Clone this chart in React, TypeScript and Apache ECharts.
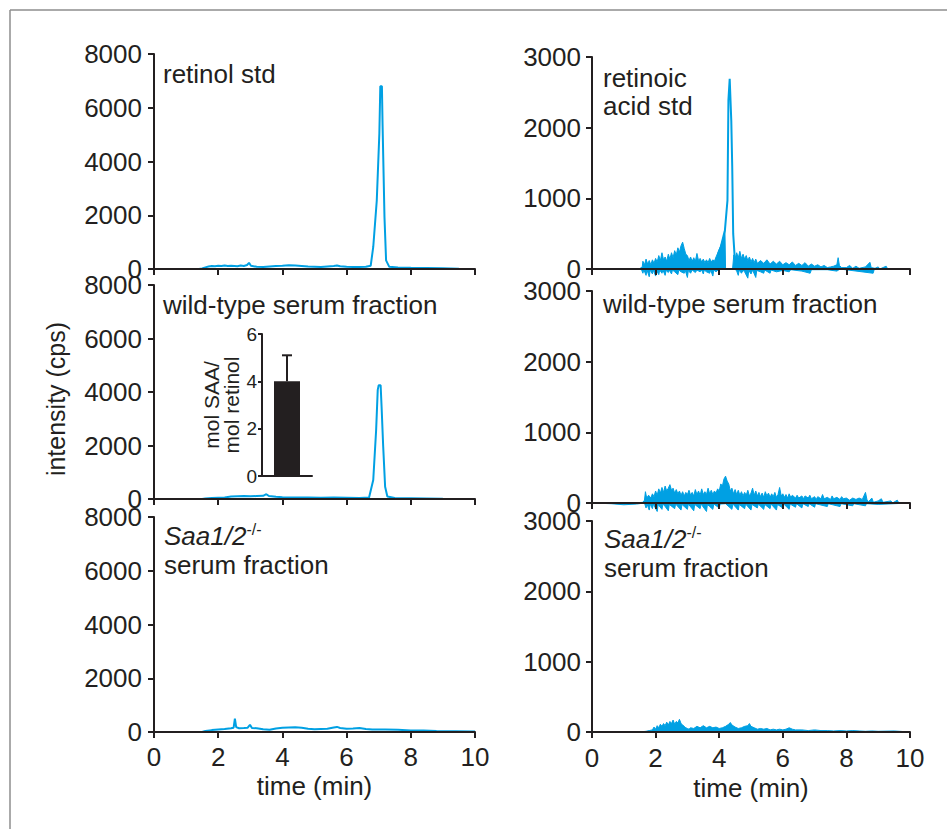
import React, { useEffect, useRef } from 'react';
import * as echarts from 'echarts';

// ---------- data ----------
// retinol traces (left column), [time (min), intensity (cps)]
const retinolStd: number[][] = [
  [0, 0], [1.4, 0], [1.5, 20], [1.6, 60], [1.7, 90], [1.8, 110], [1.9, 100], [2.0, 120], [2.1, 110],
  [2.2, 130], [2.3, 110], [2.4, 120], [2.5, 110], [2.6, 100], [2.7, 130], [2.8, 110], [2.9, 150],
  [2.96, 230], [3.02, 120], [3.2, 80], [3.4, 70], [3.6, 90], [3.8, 110], [4.0, 120], [4.2, 140],
  [4.4, 130], [4.6, 110], [4.8, 90], [5.0, 80], [5.2, 70], [5.4, 90], [5.6, 110], [5.7, 130],
  [5.8, 100], [6.0, 80], [6.2, 70], [6.4, 70], [6.6, 80], [6.75, 120], [6.83, 820], [6.94, 2550],
  [7.02, 5030], [7.05, 6800], [7.1, 6800], [7.12, 5400], [7.18, 1930], [7.23, 320], [7.33, 80],
  [7.6, 60], [8.0, 50], [8.5, 40], [9.0, 25], [9.5, 10], [10, 0],
];
const retinolWT: number[][] = [
  [0, 0], [1.5, 0], [1.6, 20], [1.8, 40], [2.0, 50], [2.2, 60], [2.4, 90], [2.6, 100], [2.8, 110],
  [3.0, 100], [3.2, 110], [3.4, 120], [3.5, 180], [3.58, 110], [3.8, 80], [4.0, 70], [4.4, 60],
  [4.8, 60], [5.2, 50], [5.6, 60], [6.0, 50], [6.4, 40], [6.7, 60], [6.83, 710], [6.92, 2580],
  [6.97, 4080], [7.0, 4250], [7.06, 4250], [7.09, 3450], [7.14, 1960], [7.2, 460], [7.27, 90],
  [7.5, 40], [8.0, 30], [8.5, 20], [9.0, 10], [10, 0],
];
const retinolKO: number[][] = [
  [0, 0], [1.5, 0], [1.6, 40], [1.8, 70], [2.0, 90], [2.2, 110], [2.4, 140], [2.48, 160], [2.52, 495],
  [2.56, 180], [2.65, 140], [2.8, 150], [2.92, 160], [2.99, 270], [3.05, 150], [3.2, 140], [3.4, 100],
  [3.6, 80], [3.8, 130], [4.0, 160], [4.2, 170], [4.4, 180], [4.6, 160], [4.8, 120], [5.0, 100],
  [5.2, 110], [5.4, 120], [5.6, 170], [5.7, 190], [5.8, 150], [6.0, 120], [6.2, 130], [6.4, 150],
  [6.6, 110], [6.8, 90], [7.2, 90], [7.6, 80], [8.0, 60], [8.4, 60], [8.8, 40], [9.4, 30], [10, 20],
];

// retinoic acid traces (right column): noisy band given by upper / lower envelopes
const raStdPeak: number[][] = [
  [3.95, 200], [4.05, 310], [4.18, 550], [4.26, 970], [4.29, 2390], [4.33, 2690], [4.35, 2690],
  [4.38, 2100], [4.41, 1440], [4.44, 500], [4.5, 75], [4.55, 120],
];
const raStdUpper: number[][] = [
  [0, 0], [1.5, 5], [1.58, 30], [1.6, 110], [1.65, 60], [1.7, 140], [1.75, 70], [1.8, 120], [1.85, 60],
  [1.9, 130], [1.95, 80], [2.0, 150], [2.05, 100], [2.1, 190], [2.15, 120], [2.2, 230], [2.25, 130],
  [2.3, 170], [2.35, 110], [2.4, 210], [2.45, 140], [2.5, 230], [2.55, 160], [2.6, 260], [2.65, 200],
  [2.7, 300], [2.75, 240], [2.8, 330], [2.85, 380], [2.9, 290], [2.95, 210], [3.0, 190], [3.05, 120],
  [3.1, 170], [3.15, 110], [3.2, 160], [3.25, 110], [3.3, 220], [3.35, 120], [3.4, 150], [3.45, 100],
  [3.5, 140], [3.55, 90], [3.6, 130], [3.65, 90], [3.7, 150], [3.75, 100], [3.8, 130], [3.85, 110],
  [3.9, 170], [3.95, 220], [4.0, 280], [4.05, 330], [4.1, 400], [4.15, 480], [4.18, 550], [4.2, 0],
  [4.42, 0], [4.46, 200], [4.5, 150], [4.55, 230], [4.6, 160], [4.65, 250], [4.7, 150], [4.75, 210],
  [4.8, 140], [4.85, 190], [4.9, 120], [4.95, 170], [5.0, 100], [5.05, 150], [5.1, 90], [5.15, 140],
  [5.2, 80], [5.3, 120], [5.4, 80], [5.5, 130], [5.6, 70], [5.7, 110], [5.8, 70], [5.9, 110], [6.0, 60],
  [6.1, 90], [6.2, 60], [6.3, 100], [6.4, 50], [6.5, 80], [6.6, 50], [6.7, 90], [6.8, 40], [6.9, 70],
  [7.0, 40], [7.1, 60], [7.2, 30], [7.3, 50], [7.4, 20], [7.5, 30], [7.6, 40], [7.7, 60], [7.74, 160],
  [7.78, 50], [7.85, 20], [8.0, 20], [8.1, 50], [8.2, 10], [8.3, 40], [8.4, 10], [8.6, 30], [8.74, 95],
  [8.78, 20], [8.9, 10], [9.0, 30], [9.05, 0], [9.25, 40], [9.3, 0], [10, 0],
];
const raStdLower: number[][] = [
  [0, 0], [1.55, 0], [1.6, -60], [1.63, -10], [1.7, -90], [1.73, -15], [1.8, -110], [1.83, -15],
  [1.9, -70], [1.93, -15], [2.0, -100], [2.03, -20], [2.1, -80], [2.13, -15], [2.2, -60], [2.23, -15],
  [2.3, -90], [2.33, -20], [2.4, -50], [2.43, -15], [2.5, -70], [2.53, -15], [2.6, -40], [2.7, -80],
  [2.73, -15], [2.8, -40], [2.9, -60], [2.93, -15], [3.0, -120], [3.03, -20], [3.1, -60], [3.15, -15],
  [3.25, -50], [3.3, -15], [3.4, -40], [3.45, -15], [3.5, -70], [3.53, -15], [3.6, -40], [3.7, -60],
  [3.73, -15], [3.8, -100], [3.83, -15], [3.9, -40], [4.0, 0], [4.5, 0], [4.55, -30], [4.6, -90],
  [4.63, -15], [4.7, -60], [4.75, -20], [4.8, -40], [4.9, -130], [4.93, -20], [5.0, -70], [5.05, -15],
  [5.15, -120], [5.18, -20], [5.3, -40], [5.4, -60], [5.43, -15], [5.6, -60], [5.63, -15], [5.8, -40],
  [6.0, -20], [6.2, -40], [6.25, -10], [6.6, -30], [6.86, -60], [6.9, -10], [7.4, -10], [7.7, -30],
  [7.8, 0], [8.84, -60], [8.88, 0], [10, 0],
];
const raWTUpper: number[][] = [
  [0, 0], [1.4, 0], [1.6, 10], [1.65, 40], [1.68, 160], [1.72, 70], [1.78, 110], [1.85, 70], [1.9, 130],
  [1.95, 90], [2.0, 170], [2.05, 110], [2.1, 200], [2.15, 140], [2.2, 220], [2.25, 150], [2.3, 240],
  [2.35, 170], [2.4, 210], [2.45, 260], [2.5, 180], [2.55, 210], [2.6, 140], [2.65, 190], [2.7, 130],
  [2.75, 170], [2.8, 110], [2.85, 160], [2.9, 100], [2.95, 150], [3.0, 120], [3.05, 180], [3.1, 110],
  [3.15, 150], [3.2, 100], [3.25, 190], [3.3, 120], [3.35, 170], [3.4, 110], [3.45, 200], [3.5, 120],
  [3.55, 160], [3.6, 120], [3.65, 210], [3.7, 130], [3.75, 180], [3.8, 120], [3.85, 170], [3.9, 140],
  [3.95, 200], [4.0, 170], [4.05, 270], [4.1, 240], [4.15, 340], [4.2, 380], [4.25, 310], [4.3, 270],
  [4.35, 170], [4.4, 210], [4.45, 130], [4.5, 190], [4.55, 120], [4.6, 180], [4.65, 110], [4.7, 160],
  [4.75, 100], [4.8, 150], [4.85, 110], [4.9, 180], [4.95, 100], [5.0, 140], [5.05, 210], [5.1, 110],
  [5.15, 170], [5.2, 100], [5.25, 150], [5.3, 90], [5.35, 140], [5.4, 80], [5.45, 160], [5.5, 100],
  [5.55, 140], [5.6, 80], [5.65, 130], [5.7, 90], [5.75, 150], [5.8, 80], [5.85, 120], [5.9, 220],
  [5.95, 100], [6.0, 130], [6.05, 80], [6.1, 120], [6.15, 70], [6.2, 130], [6.25, 80], [6.3, 110],
  [6.4, 70], [6.45, 110], [6.5, 70], [6.6, 100], [6.65, 60], [6.7, 100], [6.8, 70], [6.85, 110],
  [6.9, 60], [7.0, 90], [7.05, 50], [7.1, 90], [7.2, 60], [7.25, 120], [7.3, 60], [7.4, 80], [7.5, 50],
  [7.55, 100], [7.6, 60], [7.7, 80], [7.8, 50], [7.85, 90], [7.9, 60], [8.0, 70], [8.1, 40], [8.2, 70],
  [8.3, 50], [8.4, 70], [8.5, 50], [8.6, 150], [8.65, 40], [8.7, 20], [8.8, 70], [8.85, 10], [9.0, 30],
  [9.1, 60], [9.15, 10], [9.4, 30], [9.45, 0], [9.6, 40], [9.65, 0], [10, 0],
];
const raWTLower: number[][] = [
  [0, 0], [0.6, -10], [1.0, -25], [1.4, -15], [1.65, 0], [1.7, -70], [1.73, -15], [1.8, -100],
  [1.83, -15], [1.9, -80], [1.93, -15], [2.05, -120], [2.08, -20], [2.2, -90], [2.23, -15], [2.3, -50],
  [2.4, -110], [2.43, -20], [2.6, -80], [2.63, -15], [2.8, -100], [2.83, -20], [2.9, -50], [3.0, -90],
  [3.03, -15], [3.2, -110], [3.23, -20], [3.4, -80], [3.43, -15], [3.6, -120], [3.63, -20], [3.7, -50],
  [3.8, -90], [3.83, -15], [4.0, -70], [4.03, -15], [4.2, -10], [4.4, -90], [4.43, -15], [4.6, -100],
  [4.63, -20], [4.8, -80], [4.83, -15], [5.0, -100], [5.03, -20], [5.2, -70], [5.23, -15], [5.4, -90],
  [5.43, -20], [5.6, -80], [5.63, -15], [5.8, -100], [5.83, -20], [6.0, -70], [6.03, -15], [6.2, -90],
  [6.23, -15], [6.4, -60], [6.43, -10], [6.6, -70], [6.63, -10], [6.8, -50], [6.83, -10], [7.0, -60],
  [7.03, -10], [7.4, -50], [7.43, -10], [7.8, -50], [7.83, -10], [8.2, -40], [8.23, -10], [8.6, -40],
  [8.63, -10], [9.0, -20], [9.5, -10], [10, 0],
];
const raKOUpper: number[][] = [
  [0, 0], [1.5, 0], [1.7, 10], [1.8, 20], [1.9, 30], [1.95, 70], [2.0, 40], [2.05, 90], [2.1, 60],
  [2.15, 110], [2.2, 80], [2.25, 120], [2.3, 90], [2.35, 140], [2.4, 100], [2.45, 150], [2.5, 120],
  [2.55, 170], [2.6, 110], [2.65, 150], [2.7, 130], [2.75, 180], [2.8, 120], [2.85, 100], [2.9, 80],
  [2.95, 60], [3.0, 50], [3.05, 40], [3.1, 60], [3.2, 50], [3.3, 80], [3.4, 60], [3.5, 90], [3.6, 60],
  [3.7, 80], [3.8, 60], [3.9, 70], [4.0, 50], [4.1, 60], [4.2, 80], [4.3, 110], [4.35, 135], [4.4, 100],
  [4.5, 70], [4.6, 50], [4.7, 60], [4.8, 80], [4.9, 90], [4.95, 120], [5.0, 80], [5.1, 60], [5.2, 40],
  [5.3, 50], [5.4, 40], [5.5, 50], [5.6, 30], [5.7, 40], [5.8, 30], [5.9, 40], [6.0, 30], [6.1, 40],
  [6.2, 60], [6.3, 40], [6.4, 30], [6.6, 30], [6.8, 20], [7.0, 30], [7.2, 20], [7.4, 20], [7.6, 15],
  [7.8, 20], [8.0, 15], [8.2, 20], [8.4, 15], [8.6, 10], [8.8, 15], [9.0, 10], [9.5, 15], [10, 0],
];

// inset: mol SAA / mol retinol
const insetCategories = [''];
const insetMean = [4.0];
const insetErrorTop = [5.1];

// axis ranges / labels
const timeMin = 0;
const timeMax = 10;
const timeInterval = 2;
const retinolMax = 8000;
const retinolInterval = 2000;
const acidMax = 3000;
const acidInterval = 1000;
const insetMax = 6;
const insetInterval = 2;

// ---------- styling ----------
const BLUE = '#00a0e3';
const INK = '#231f20';
const FONT = '"Liberation Sans", Arial, Helvetica, sans-serif';

export default function App() {
  const ref = useRef<HTMLDivElement>(null);

  useEffect(() => {
    document.body.style.margin = '0';
    if (!ref.current) return;
    const chart = echarts.init(ref.current, undefined, { renderer: 'svg' });

    const grids = [
      { left: 154, top: 54, width: 321, height: 215 },
      { left: 154, top: 285, width: 321, height: 214 },
      { left: 154, top: 517, width: 321, height: 215 },
      { left: 592, top: 57, width: 318, height: 212 },
      { left: 592, top: 291, width: 318, height: 212 },
      { left: 592, top: 521, width: 318, height: 211 },
      { left: 262, top: 334, width: 50, height: 142 },
    ];

    const axisLine = { show: true, onZero: false, lineStyle: { color: INK, width: 2 } };
    const axisTick = { show: true, length: 6, inside: false, lineStyle: { color: INK, width: 2 } };

    const xAxes: any[] = [0, 1, 2, 3, 4, 5].map((i) => {
      const bottom = i === 2 || i === 5;
      return {
        type: 'value',
        gridIndex: i,
        min: timeMin,
        max: timeMax,
        interval: timeInterval,
        z: 5,
        axisLine,
        axisTick,
        splitLine: { show: false },
        axisLabel: {
          show: bottom,
          fontSize: 26,
          color: INK,
          fontFamily: FONT,
          margin: i === 5 ? 13 : 12,
        },
        name: bottom ? 'time (min)' : '',
        nameLocation: 'middle',
        nameGap: i === 5 ? 43 : 41,
        nameTextStyle: { fontSize: 26, color: INK, fontFamily: FONT },
      };
    });
    xAxes.push({
      type: 'category',
      gridIndex: 6,
      data: insetCategories,
      z: 5,
      axisLine: { show: true, lineStyle: { color: INK, width: 2 } },
      axisTick: { show: false },
      axisLabel: { show: false },
    });

    const yAxes: any[] = [0, 1, 2, 3, 4, 5].map((i) => {
      const left = i < 3;
      return {
        type: 'value',
        gridIndex: i,
        min: 0,
        max: left ? retinolMax : acidMax,
        interval: left ? retinolInterval : acidInterval,
        z: 5,
        axisLine,
        axisTick,
        splitLine: { show: false },
        axisLabel: {
          fontSize: 26,
          lineHeight: 16,
          color: INK,
          fontFamily: FONT,
          margin: left ? 12 : 11,
          formatter: (v: number) => String(v),
        },
      };
    });
    yAxes.push({
      type: 'value',
      gridIndex: 6,
      min: 0,
      max: insetMax,
      interval: insetInterval,
      z: 5,
      axisLine: { show: true, lineStyle: { color: INK, width: 2 } },
      axisTick: { show: true, length: 4, lineStyle: { color: INK, width: 2 } },
      splitLine: { show: false },
      axisLabel: { fontSize: 19, color: INK, fontFamily: FONT, margin: 5 },
    });

    const line = (idx: number, data: number[][]) => ({
      type: 'line',
      xAxisIndex: idx,
      yAxisIndex: idx,
      data,
      symbol: 'none',
      clip: false,
      lineStyle: { color: BLUE, width: 2 },
      z: 2,
    });
    const area = (idx: number, data: number[][]) => ({
      type: 'line',
      xAxisIndex: idx,
      yAxisIndex: idx,
      data,
      symbol: 'none',
      clip: false,
      lineStyle: { color: BLUE, width: 1 },
      areaStyle: { color: BLUE, opacity: 1 },
      z: 2,
    });

    const series: any[] = [
      line(0, retinolStd),
      line(1, retinolWT),
      line(2, retinolKO),
      area(3, raStdUpper),
      area(3, raStdLower),
      line(3, raStdPeak),
      area(4, raWTUpper),
      area(4, raWTLower),
      area(5, raKOUpper),
      {
        type: 'bar',
        xAxisIndex: 6,
        yAxisIndex: 6,
        data: insetMean,
        barWidth: 26,
        itemStyle: { color: INK },
        z: 2,
      },
      {
        type: 'custom',
        xAxisIndex: 6,
        yAxisIndex: 6,
        data: insetMean.map((m, k) => [k, m, insetErrorTop[k]]),
        encode: { x: 0, y: [1, 2] },
        z: 3,
        renderItem: (params: any, api: any) => {
          const base = api.coord([api.value(0), api.value(1)]);
          const top = api.coord([api.value(0), api.value(2)]);
          return {
            type: 'group',
            children: [
              {
                type: 'line',
                shape: { x1: base[0], y1: base[1], x2: top[0], y2: top[1] },
                style: { stroke: INK, lineWidth: 2 },
              },
              {
                type: 'line',
                shape: { x1: top[0] - 5, y1: top[1], x2: top[0] + 5, y2: top[1] },
                style: { stroke: INK, lineWidth: 2 },
              },
            ],
          };
        },
      },
    ];

    const label = (x: number, y: number, text: string, extra: any = {}) => ({
      type: 'text',
      x,
      y,
      z: 10,
      style: {
        text,
        fill: INK,
        fontSize: 26,
        fontFamily: FONT,
        lineHeight: 28,
        textAlign: 'left',
        textVerticalAlign: 'top',
        ...extra,
      },
    });

    const saaRich = {
      it: { fontStyle: 'italic', fontSize: 26, fontFamily: FONT, lineHeight: 29, fill: INK, color: INK },
      sup: { fontSize: 16, fontFamily: FONT, lineHeight: 22, verticalAlign: 'top', fill: INK, color: INK },
      n: { fontSize: 26, fontFamily: FONT, lineHeight: 29, fill: INK, color: INK },
    };

    const graphic: any[] = [
      { type: 'line', shape: { x1: 10, y1: 10, x2: 947, y2: 10 }, style: { stroke: '#8e8e8e', lineWidth: 1.5 } },
      { type: 'line', shape: { x1: 10, y1: 10, x2: 10, y2: 829 }, style: { stroke: '#8e8e8e', lineWidth: 1.5 } },
      label(163, 60, 'retinol std'),
      label(603, 64, 'retinoic\nacid std'),
      label(163, 291, 'wild-type serum fraction'),
      label(603, 290, 'wild-type serum fraction'),
      label(164, 521, '{it|Saa1/2}{sup|-/-}\n{n|serum fraction}', { rich: saaRich, lineHeight: 29 }),
      label(604, 524, '{it|Saa1/2}{sup|-/-}\n{n|serum fraction}', { rich: saaRich, lineHeight: 29 }),
      {
        type: 'text',
        x: 56,
        y: 399,
        rotation: Math.PI / 2,
        z: 10,
        style: {
          text: 'intensity (cps)',
          fill: INK,
          fontSize: 25,
          fontFamily: FONT,
          textAlign: 'center',
          textVerticalAlign: 'middle',
        },
      },
      {
        type: 'text',
        x: 221,
        y: 405,
        rotation: Math.PI / 2,
        z: 10,
        style: {
          text: 'mol SAA/\nmol retinol',
          fill: INK,
          fontSize: 21,
          fontFamily: FONT,
          lineHeight: 20,
          textAlign: 'center',
          textVerticalAlign: 'middle',
        },
      },
    ];

    chart.setOption({
      animation: false,
      backgroundColor: '#ffffff',
      textStyle: { fontFamily: FONT, color: INK },
      grid: grids,
      xAxis: xAxes,
      yAxis: yAxes,
      series,
      graphic,
    });

    return () => chart.dispose();
  }, []);

  return <div ref={ref} style={{ width: 947, height: 829 }} />;
}
